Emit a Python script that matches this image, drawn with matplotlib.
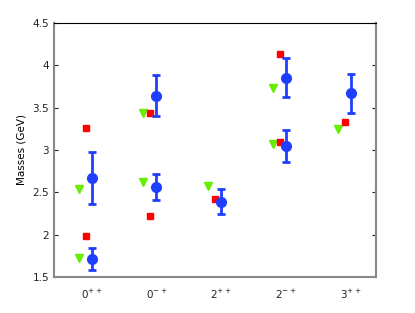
import numpy as np
import matplotlib
matplotlib.use("Agg")
from matplotlib import pyplot as plt

# categories
labels = ['0$^{++}$', '0$^{-+}$', '2$^{++}$', '2$^{-+}$', '3$^{++}$']

# lattice (blue, with errors)
lat_x = [1, 1, 2, 2, 3, 4, 4, 5]
lat_y = [1.71, 2.67, 2.56, 3.64, 2.39, 3.05, 3.85, 3.67]
lat_err = [0.13, 0.31, 0.15, 0.24, 0.15, 0.19, 0.23, 0.23]

# model 1 (red squares)
red_x = [1, 1, 2, 2, 3, 4, 4, 5]
red_y = [1.98, 3.26, 2.22, 3.43, 2.42, 3.09, 4.13, 3.33]

# model 2 (green triangles)
grn_x = [1, 1, 2, 2, 3, 4, 4, 5]
grn_y = [1.72, 2.54, 2.62, 3.44, 2.58, 3.07, 3.73, 3.25]

fig = plt.figure(figsize=(4.15, 3.13), dpi=100)
ax = fig.add_axes([0.130, 0.115, 0.776, 0.812])

ax.plot(np.array(grn_x) - 0.2, grn_y, 'v', color='#66ee00', ms=6, mec='#66ee00')
ax.plot(np.array(red_x) - 0.09, red_y, 's', color='#ff0000', ms=4.5, mec='#ff0000')
ax.errorbar(lat_x, lat_y, yerr=lat_err, fmt='o', color='#1f3fff', ms=7,
            elinewidth=2, capsize=3, capthick=2)

ax.set_xlim(0.42, 5.39)
ax.set_ylim(1.5, 4.5)
ax.set_xticks([1, 2, 3, 4, 5])
ax.set_xticklabels(labels)
ax.set_yticks([1.5, 2, 2.5, 3, 3.5, 4, 4.5])
ax.set_yticklabels(['1.5', '2', '2.5', '3', '3.5', '4', '4.5'])
ax.tick_params(direction='in', labelsize=7.5, length=3, top=False, right=True, colors='#222222')
ax.tick_params(axis='x', length=0, pad=8)
for s in ['left', 'bottom', 'right']:
    ax.spines[s].set_color('#888888')
    ax.spines[s].set_linewidth(1.5)
ax.spines['top'].set_color('black')
ax.set_ylabel('Masses (GeV)', fontsize=7.5)

fig.savefig('out.png', dpi=100)
